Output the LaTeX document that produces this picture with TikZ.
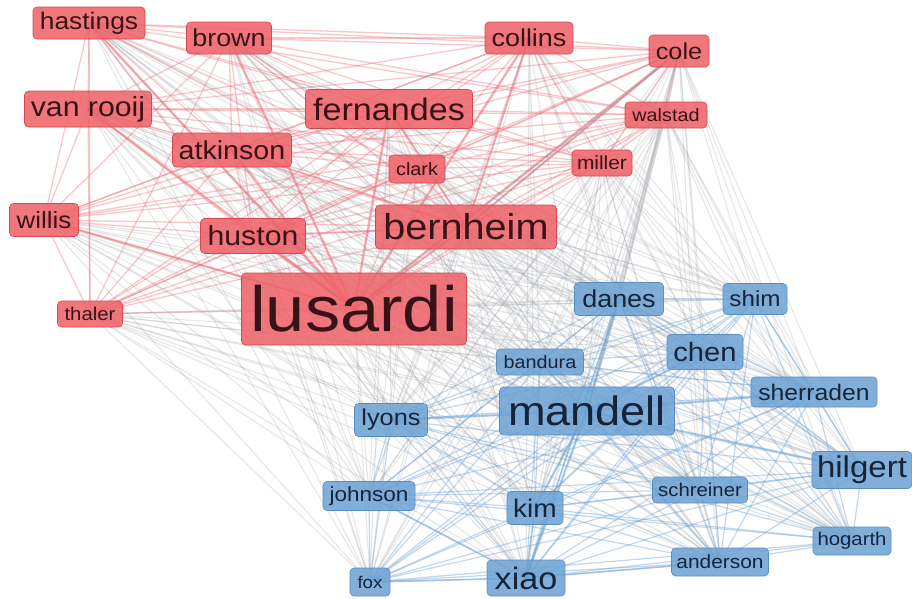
\documentclass[tikz,border=0pt]{standalone}
\usepackage{fontspec}
\setmainfont{Liberation Sans}[FakeStretch=1.1]
\usetikzlibrary{backgrounds}

\definecolor{redfill}{RGB}{238,98,104}
\definecolor{redline}{RGB}{214,70,78}
\definecolor{redtext}{RGB}{55,18,22}
\definecolor{bluefill}{RGB}{108,162,211}
\definecolor{blueline}{RGB}{88,143,194}
\definecolor{bluetext}{RGB}{22,36,58}
\definecolor{redlinkc}{RGB}{234,108,116}
\definecolor{bluelinkc}{RGB}{108,160,212}
\definecolor{graylinkc}{RGB}{160,164,170}

\newcommand\authsize[1]{\fontsize{#1}{#1}\selectfont}

\tikzset{
  redauth/.style={draw=redline, fill=redfill, fill opacity=0.86, text opacity=1,
    text=redtext, rounded corners=4pt, inner sep=0pt, line width=0.6pt},
  blueauth/.style={draw=blueline, fill=bluefill, fill opacity=0.86, text opacity=1,
    text=bluetext, rounded corners=4pt, inner sep=0pt, line width=0.6pt},
  redlink/.style={draw=redlinkc, draw opacity=0.38, line width=1.3pt},
  bluelink/.style={draw=bluelinkc, draw opacity=0.42, line width=1.2pt},
  graylink/.style={draw=graylinkc, draw opacity=0.28, line width=1.1pt}
}

\begin{document}
\begin{tikzpicture}[x=1pt,y=-1pt]
  \useasboundingbox (0,0) rectangle (912,598);

  \node[redauth,minimum width=112,minimum height=32,font=\authsize{24}] (hastings) at (89,23) {hastings};
  \node[redauth,minimum width=85,minimum height=32,font=\authsize{24.5}] (brown) at (229,38) {brown};
  \node[redauth,minimum width=88,minimum height=32,font=\authsize{24.5}] (collins) at (529,38) {collins};
  \node[redauth,minimum width=60,minimum height=32,font=\authsize{23}] (cole) at (679,51) {cole};
  \node[redauth,minimum width=127,minimum height=36,font=\authsize{27.5}] (vanrooij) at (88,109) {van rooij};
  \node[redauth,minimum width=167,minimum height=39,font=\authsize{31}] (fernandes) at (389,109) {fernandes};
  \node[redauth,minimum width=82,minimum height=26,font=\authsize{18}] (walstad) at (666,115) {walstad};
  \node[redauth,minimum width=119,minimum height=34,font=\authsize{26}] (atkinson) at (232,150) {atkinson};
  \node[redauth,minimum width=56,minimum height=28,font=\authsize{18}] (clark) at (417,169) {clark};
  \node[redauth,minimum width=60,minimum height=26,font=\authsize{19}] (miller) at (602,163) {miller};
  \node[redauth,minimum width=69,minimum height=33,font=\authsize{23.5}] (willis) at (44,220) {willis};
  \node[redauth,minimum width=105,minimum height=35,font=\authsize{27.5}] (huston) at (253,236) {huston};
  \node[redauth,minimum width=181,minimum height=44,font=\authsize{36}] (bernheim) at (466,227) {bernheim};
  \node[redauth,minimum width=225,minimum height=72,font=\authsize{64}] (lusardi) at (354,309) {lusardi};
  \node[redauth,minimum width=65,minimum height=26,font=\authsize{18.5}] (thaler) at (90,314) {thaler};

  \node[blueauth,minimum width=89,minimum height=33,font=\authsize{24.5}] (danes) at (619,299) {danes};
  \node[blueauth,minimum width=64,minimum height=31,font=\authsize{22}] (shim) at (755,299) {shim};
  \node[blueauth,minimum width=87,minimum height=26,font=\authsize{18}] (bandura) at (540,362) {bandura};
  \node[blueauth,minimum width=76,minimum height=35,font=\authsize{26.5}] (chen) at (705,352) {chen};
  \node[blueauth,minimum width=126,minimum height=30,font=\authsize{22.5}] (sherraden) at (814,392) {sherraden};
  \node[blueauth,minimum width=73,minimum height=33,font=\authsize{23}] (lyons) at (391,420) {lyons};
  \node[blueauth,minimum width=175,minimum height=48,font=\authsize{41}] (mandell) at (587,411) {mandell};
  \node[blueauth,minimum width=100,minimum height=37,font=\authsize{30}] (hilgert) at (862,470) {hilgert};
  \node[blueauth,minimum width=92,minimum height=29,font=\authsize{20.5}] (johnson) at (369,496) {johnson};
  \node[blueauth,minimum width=95,minimum height=26,font=\authsize{18.5}] (schreiner) at (700,490) {schreiner};
  \node[blueauth,minimum width=56,minimum height=33,font=\authsize{25.5}] (kim) at (535,508) {kim};
  \node[blueauth,minimum width=78,minimum height=28,font=\authsize{18.5}] (hogarth) at (852,541) {hogarth};
  \node[blueauth,minimum width=97,minimum height=28,font=\authsize{19}] (anderson) at (720,562) {anderson};
  \node[blueauth,minimum width=40,minimum height=28,font=\authsize{17}] (fox) at (370,582) {fox};
  \node[blueauth,minimum width=78,minimum height=36,font=\authsize{31}] (xiao) at (526,578) {xiao};

  \begin{pgfonlayer}{background}
    \foreach \a in {hastings,brown,collins,cole,vanrooij,fernandes,walstad,atkinson,
                    clark,miller,willis,huston,bernheim,lusardi,thaler}
      \foreach \b in {danes,shim,bandura,chen,sherraden,lyons,mandell,hilgert,
                      johnson,schreiner,kim,hogarth,anderson,fox,xiao}
        \draw[graylink] (\a.center) -- (\b.center);

    \foreach \a [count=\i] in {hastings,brown,collins,cole,vanrooij,fernandes,walstad,atkinson,
                               clark,miller,willis,huston,bernheim,lusardi,thaler}
      \foreach \b [count=\j] in {hastings,brown,collins,cole,vanrooij,fernandes,walstad,atkinson,
                                 clark,miller,willis,huston,bernheim,lusardi,thaler}
        {\ifnum\j>\i \draw[redlink] (\a.center) -- (\b.center); \fi}

    \foreach \a [count=\i] in {danes,shim,bandura,chen,sherraden,lyons,mandell,hilgert,
                               johnson,schreiner,kim,hogarth,anderson,fox,xiao}
      \foreach \b [count=\j] in {danes,shim,bandura,chen,sherraden,lyons,mandell,hilgert,
                                 johnson,schreiner,kim,hogarth,anderson,fox,xiao}
        {\ifnum\j>\i \draw[bluelink] (\a.center) -- (\b.center); \fi}

    \foreach \b in {hastings,brown,collins,cole,vanrooij,fernandes,atkinson,huston,bernheim,willis}
      \draw[redlink,line width=2.6pt] (lusardi.center) -- (\b.center);
    \foreach \b in {fernandes,atkinson,collins,cole,huston}
      \draw[redlink,line width=2pt] (bernheim.center) -- (\b.center);
    \foreach \b in {xiao,kim,chen,danes,hilgert,lyons,sherraden}
      \draw[bluelink,line width=2.4pt] (mandell.center) -- (\b.center);
    \foreach \b in {kim,danes,fox,anderson,johnson}
      \draw[bluelink,line width=1.8pt] (xiao.center) -- (\b.center);
    \foreach \b in {mandell,danes,lusardi,bernheim}
      \draw[graylink,line width=2.2pt] (cole.center) -- (\b.center);
  \end{pgfonlayer}
\end{tikzpicture}
\end{document}
